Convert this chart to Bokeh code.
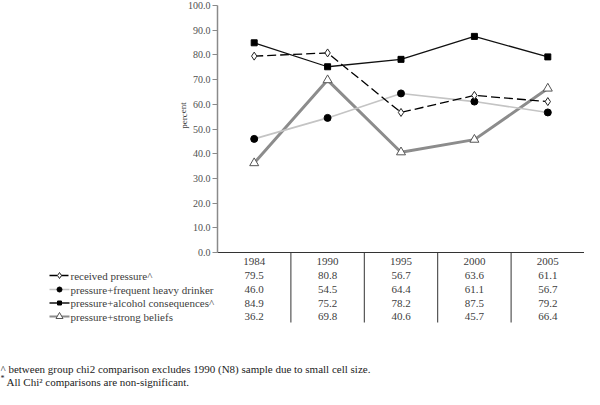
from bokeh.plotting import figure
from bokeh.models import Range1d, LinearAxis, FixedTicker, NumeralTickFormatter, ColumnDataSource
from bokeh.core.properties import value
from bokeh.embed import file_html
from bokeh.resources import INLINE

# ---------------- data ----------------
years = ["1984", "1990", "1995", "2000", "2005"]
received_pressure = [79.5, 80.8, 56.7, 63.6, 61.1]
frequent_heavy = [46.0, 54.5, 64.4, 61.1, 56.7]
alcohol_consequences = [84.9, 75.2, 78.2, 87.5, 79.2]
strong_beliefs = [36.2, 69.8, 40.6, 45.7, 66.4]
series_names = ["received pressure^", "pressure+frequent heavy drinker",
                "pressure+alcohol consequences^", "pressure+strong beliefs"]
y_ticks = [0, 10, 20, 30, 40, 50, 60, 70, 80, 90, 100]
y_label = "percent"
footnote1 = "^ between group chi2 comparison excludes 1990 (N8) sample due to small cell size."
footnote2 = "All Chi\u00b2 comparisons are non-significant."

# ---------------- layout (pixels inside the canvas) ----------------
W, H = 584, 389
AX_X, AX_R = 217, 584        # y-axis position and right end of the category area
Y0, Y100 = 252, 5            # pixel rows of 0 and 100
xu = (AX_R - AX_X) / len(years)
yu = (Y0 - Y100) / 100.0


def dx(px):
    return (px - AX_X) / xu


def dy(py):
    return (Y0 - py) / yu


FONT = value("Liberation Serif")
TXT = "#404040"

p = figure(width=W, height=H, output_backend="svg", toolbar_location=None,
           x_range=Range1d(dx(0), dx(W)), y_range=Range1d(dy(H), dy(0)),
           x_axis_type=None, y_axis_type=None, min_border=0,
           outline_line_color=None, background_fill_color="white",
           border_fill_color="white")

ax = LinearAxis(fixed_location=0, bounds=(0, 100),
                ticker=FixedTicker(ticks=y_ticks),
                formatter=NumeralTickFormatter(format="0.0"))
ax.axis_line_color = "#8a8a8a"
ax.axis_line_width = 1.5
ax.major_tick_out = 5
ax.major_tick_in = 0
ax.minor_tick_out = 0
ax.minor_tick_in = 0
ax.major_tick_line_color = "#8a8a8a"
ax.major_label_text_font = "Liberation Serif"
ax.major_label_text_font_size = "10px"
ax.major_label_text_color = "#505050"
ax.major_label_standoff = 2
p.add_layout(ax, "left")

xs = [i + 0.5 for i in range(len(years))]

styles = [
    dict(vals=received_pressure, color="black", width=1.3, dash="9 4",
         marker="diamond", size=8, fill="white", mline="#222222"),
    dict(vals=frequent_heavy, color="#c4c4c4", width=1.6, dash="solid",
         marker="circle", size=7, fill="black", mline="black"),
    dict(vals=alcohol_consequences, color="#111111", width=1.3, dash="solid",
         marker="square", size=6, fill="black", mline="black"),
    dict(vals=strong_beliefs, color="#8c8c8c", width=3, dash="solid",
         marker="triangle", size=9, fill="white", mline="#555555"),
]

# draw order: thick grey, light grey, dashed, black
for k in [3, 1, 0, 2]:
    s = styles[k]
    src = ColumnDataSource(dict(x=xs, y=s["vals"]))
    p.line("x", "y", source=src, line_color=s["color"], line_width=s["width"],
           line_dash=s["dash"])
    p.scatter("x", "y", source=src, marker=s["marker"], size=s["size"],
              fill_color=s["fill"], line_color=s["mline"], line_width=1)

# ---------------- data table ----------------
header_py = 261
row_py = [275, 289, 302.5, 316]

p.segment(x0=[0], y0=[0], x1=[len(years)], y1=[0], line_color="#333333", line_width=1)
p.segment(x0=list(range(1, len(years))), y0=[0] * (len(years) - 1),
          x1=list(range(1, len(years))), y1=[dy(322)] * (len(years) - 1),
          line_color="#333333", line_width=1)

p.text(x=xs, y=[dy(header_py)] * len(years), text=years, text_font=FONT,
       text_font_size=value("11px"), text_color=TXT, text_align="center",
       text_baseline="middle")

for r, s in enumerate(styles):
    p.text(x=xs, y=[dy(row_py[r])] * len(years),
           text=["%.1f" % v for v in s["vals"]], text_font=FONT,
           text_font_size=value("11px"), text_color=TXT, text_align="center",
           text_baseline="middle")
    # legend key
    yk = dy(row_py[r])
    p.line(x=[dx(49), dx(69)], y=[yk, yk], line_color=s["color"],
           line_width=min(s["width"], 2), line_dash=s["dash"] if r != 0 else "8 3")
    p.scatter(x=[dx(59)], y=[yk], marker=s["marker"], size=s["size"] - 2,
              fill_color=s["fill"], line_color=s["mline"], line_width=1)
    p.text(x=[dx(70)], y=[yk], text=[series_names[r]], text_font=FONT,
           text_font_size=value("11px"), text_color=TXT, text_align="left",
           text_baseline="middle")

# ---------------- y label ----------------
p.text(x=[dx(183)], y=[dy(115)], text=[y_label], angle=1.5708, text_font=FONT,
       text_font_size=value("9px"), text_color=TXT, text_align="center",
       text_baseline="middle")

# ---------------- footnotes ----------------
p.text(x=[dx(0)], y=[dy(368)], text=[footnote1], text_font=FONT,
       text_font_size=value("11px"), text_color="#222222", text_align="left",
       text_baseline="middle")
p.text(x=[dx(0)], y=[dy(378)], text=["*"], text_font=FONT,
       text_font_size=value("8px"), text_color="#222222", text_align="left",
       text_baseline="middle")
p.text(x=[dx(6)], y=[dy(381)], text=[footnote2], text_font=FONT,
       text_font_size=value("11px"), text_color="#222222", text_align="left",
       text_baseline="middle")

open("out.html", "w").write(file_html(p, INLINE))
